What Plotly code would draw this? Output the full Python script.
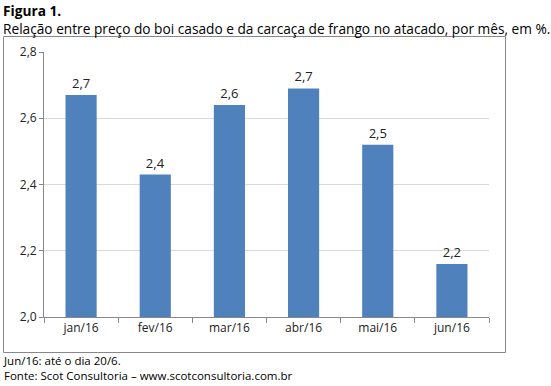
import plotly.graph_objects as go

months = ["jan/16", "fev/16", "mar/16", "abr/16", "mai/16", "jun/16"]
ratio = [2.67, 2.43, 2.64, 2.69, 2.52, 2.16]
labels = [f"{v:.1f}".replace(".", ",") for v in ratio]

W, H = 551, 386
L, R, T, B = 44, 489, 52, 317
pw, ph = R - L, B - T

def px(x):
    return (x - L) / pw

def py(y):
    return (B - y) / ph

fig = go.Figure(go.Bar(
    x=months, y=ratio, text=labels, textposition="outside",
    textfont=dict(family="Open Sans, sans-serif", size=13, color="#222"),
    marker=dict(color="#4F81BD", line=dict(width=0)),
    cliponaxis=False,
))

fig.update_layout(
    width=W, height=H,
    margin=dict(l=L, r=W - R, t=T, b=H - B),
    paper_bgcolor="white", plot_bgcolor="white",
    separators=",.",
    bargap=0.58,
    showlegend=False,
    font=dict(family="Open Sans, sans-serif", size=12, color="#333"),
    xaxis=dict(
        showline=True, linecolor="#888", linewidth=1,
        ticks="outside", ticklen=5, tickcolor="#888", tickson="boundaries",
        tickfont=dict(size=12, color="#222"),
    ),
    yaxis=dict(
        range=[2.0, 2.8], dtick=0.2, tickformat=".1f",
        showline=True, linecolor="#888", linewidth=1,
        ticks="outside", ticklen=4, tickcolor="#888",
        showgrid=True, gridcolor="#d9d9d9", gridwidth=1,
        zeroline=False,
        tickfont=dict(size=12, color="#222"),
    ),
    shapes=[dict(type="rect", xref="paper", yref="paper",
                 x0=px(3.5), x1=px(505.5), y0=py(352.5), y1=py(36.5),
                 line=dict(color="#888", width=1), layer="above")],
    annotations=[
        dict(text="<b>Figura 1.</b><br>Relação entre preço do boi casado e da carcaça de frango no atacado, por mês, em %.",
             xref="paper", yref="paper", x=px(1), y=py(-1), xanchor="left", yanchor="top",
             align="left", showarrow=False, font=dict(size=13.7, color="black")),
        dict(text="Jun/16: até o dia 20/6.<br>Fonte: Scot Consultoria – www.scotconsultoria.com.br",
             xref="paper", yref="paper", x=px(1), y=py(351), xanchor="left", yanchor="top",
             align="left", showarrow=False, font=dict(size=11.5, color="black")),
    ],
)

fig.write_html("out.html", config={"displayModeBar": False},
               post_script="document.body.style.margin='0';document.body.style.padding='0';")
